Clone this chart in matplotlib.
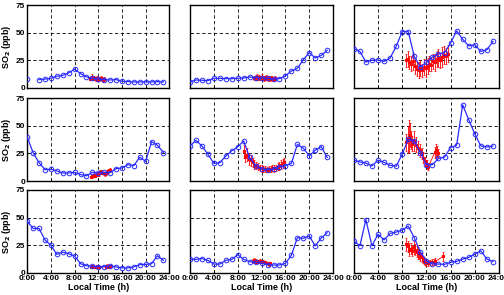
import matplotlib
matplotlib.use("Agg")
import matplotlib.pyplot as plt
import numpy as np

plt.rcParams['font.family'] = ['Liberation Sans', 'DejaVu Sans']
plt.rcParams['font.weight'] = 'bold'

hours = np.arange(24)

# hourly SO2 (ppb), one list per panel, row by row
so2_p1 = [8.1, np.nan, 7.5, 8, 8.7, 10.5, 11.4, 13.5, 17, 13, 10, 8.7,
          8, 7.5, 7.2, 7.5, 6, 5.7, 5.4, 5.4, 5.4, 5.4, 5.7, 5.4]
so2_p2 = [5.4, 7.2, 6.9, 6.6, 8.7, 8.7, 8.4, 8.4, 8.7, 9, 9.9, 9.3,
          9, 8.7, 8, 8.4, 11, 15.3, 17.7, 25.5, 32, 27, 29.4, 34]
so2_p3 = [35.4, 33, 23.4, 25.2, 25.2, 24, 27, 37.5, 51, 51, 28.5, 19,
          23, 28, 30.6, 32, 40.5, 51.6, 44, 38, 39, 33, 34.5, 42]
so2_p4 = [40, 25.6, 16.7, 10.4, 10.7, 9.2, 7.4, 7.4, 8, 6, 4.8, 8,
          7.4, 8, 7.7, 11.3, 11.9, 14.9, 14, 21.7, 17.9, 35.7, 32.4, 25.9]
so2_p5 = [31.8, 36.9, 31.8, 24.4, 16, 16.7, 22.6, 27.4, 31, 36.3, 21.4, 14,
          11, 10.4, 10.7, 13, 14, 16, 33.3, 29.8, 22.9, 28, 31.2, 21.4]
so2_p6 = [19, 17.4, 16.3, 13.7, 19, 17, 14.3, 13.4, 24.4, 37.8, 36.3, 25.9,
          14.9, 14.9, 20.5, 21.7, 30.4, 32.4, 69, 55.6, 42.8, 31.8, 30.9, 31.8]
so2_p7 = [46.7, 40.2, 40.2, 29.8, 25, 16.7, 18.8, 17.3, 15.2, 8.3, 6.5, 6,
          5.7, 5.7, 6.5, 5.4, 4.5, 4.5, 5.4, 7.4, 7.7, 8.3, 15.5, 11.3]
so2_p8 = [12.5, 12.2, 13, 11.3, 8, 8, 11.3, 12.2, 16.4, 12.2, 10.1, 9.5,
          8.9, 7.4, 7.1, 7.1, 8.6, 16, 31.8, 31.3, 33.3, 24.4, 31.5, 36.3]
so2_p9 = [28.9, 24.4, 48.2, 24.4, 35, 29.8, 35.7, 36.9, 38.7, 42.3, 31.8, 19,
          11, 8, 8, 7.7, 9.5, 10.4, 12.5, 14, 17, 20, 12.5, 10.1]

# high-resolution measurements with spread (red)
t_r1 = [10.6, 10.8, 11.0, 11.2, 11.4, 11.6, 11.8, 12.0, 12.2, 12.4, 12.6, 12.8, 13.0]
v_r1 = [8.5, 9, 10, 9, 8.5, 8, 9, 7.5, 8, 9, 8, 7, 8]
e_r1 = [1.5, 2, 2.5, 2, 1.5, 1.5, 2, 1.5, 1.5, 2, 1.5, 1.5, 1.5]

t_r2 = [10.8, 11.0, 11.2, 11.4, 11.6, 11.8, 12.0, 12.2, 12.4, 12.6, 12.8, 13.0, 13.2, 13.4, 13.6, 13.8, 14.0, 14.2]
v_r2 = [9, 9.5, 10, 9, 9.5, 9, 10, 9, 8.5, 9, 9.5, 8.5, 9, 8, 9, 8.5, 8, 9]
e_r2 = [2, 2, 2.5, 2, 2, 2, 2.5, 2, 2, 2, 2.5, 2, 2, 2, 2, 2, 2, 2]

t_r3 = [8.6, 8.9, 9.2, 9.5, 9.8, 10.1, 10.4, 10.7, 11.0, 11.3, 11.6, 11.9, 12.2, 12.5, 12.8,
        13.1, 13.4, 13.7, 14.0, 14.3, 14.6, 14.9, 15.2, 15.5]
v_r3 = [25, 26, 23, 22, 24, 20, 17, 16, 18, 16, 19, 18, 20, 22, 21,
        24, 23, 26, 27, 25, 28, 30, 29, 31]
e_r3 = [6, 7, 6, 7, 8, 7, 6, 7, 7, 6, 7, 8, 7, 7, 6,
        7, 8, 7, 8, 7, 9, 8, 7, 8]

t_r4 = [10.7, 10.9, 11.1, 11.3, 11.5, 11.7, 11.9, 12.1, 12.3, 12.5, 12.7, 12.9, 13.1, 13.3, 13.5, 13.7, 14.0]
v_r4 = [4, 4.5, 5, 5.5, 5, 6, 6.5, 7, 8, 8.5, 7.5, 7, 6.5, 7, 8, 9, 10]
e_r4 = [1, 1.5, 1.5, 1.5, 1.5, 1.5, 2, 2, 2, 2, 1.5, 1.5, 1.5, 1.5, 2, 2, 2]

t_r5 = [9.0, 9.3, 9.6, 9.9, 10.2, 10.5, 10.8, 11.1, 11.4, 11.7, 12.0, 12.3, 12.6, 12.9,
        13.2, 13.5, 13.8, 14.1, 14.4, 14.7, 15.0, 15.3, 15.6, 15.8]
v_r5 = [27, 22, 24, 20, 19, 17, 15, 14, 13, 12, 11.5, 11, 11, 10.5,
        11, 11, 12, 11.5, 12, 13, 14, 15, 16, 17]
e_r5 = [6, 5, 6, 5, 5, 4, 4, 3, 3, 3, 3, 2.5, 3, 2.5,
        3, 3, 3, 3, 3, 3, 3.5, 4, 4, 4]

t_r6 = [8.7, 8.9, 9.1, 9.3, 9.5, 9.7, 10.0, 10.3, 10.6, 10.9, 11.2, 11.5, 11.8, 12.1, 12.3,
        13.4, 13.6, 13.8, 14.0]
v_r6 = [35, 38, 40, 42, 37, 34, 36, 33, 30, 28, 25, 21, 18, 15, 13,
        26, 28, 27, 25]
e_r6 = [8, 12, 15, 11, 8, 7, 9, 7, 6, 6, 5, 5, 4, 4, 3,
        5, 6, 5, 4]

t_r7 = [10.8, 11.0, 11.2, 11.4, 11.6, 11.8, 12.0, 12.2, 13.3, 13.5, 13.7, 13.9]
v_r7 = [5.5, 6, 5.5, 5, 5.5, 6, 5.5, 5, 5.5, 6, 5.5, 6]
e_r7 = [1, 1.5, 1, 1, 1, 1.5, 1, 1, 1.5, 2, 1.5, 1.5]

t_r8 = [10.5, 10.7, 10.9, 11.1, 11.3, 11.5, 11.7, 11.9, 12.1, 12.3, 12.5, 13.0, 13.2, 13.4]
v_r8 = [11, 11.5, 10.5, 11, 10, 10.5, 11, 10, 10.5, 10, 9.5, 8.5, 8, 8.5]
e_r8 = [2, 2, 1.5, 2, 1.5, 1.5, 2, 1.5, 1.5, 1.5, 1.5, 1.5, 1.5, 1.5]

t_r9 = [8.7, 8.9, 9.1, 9.4, 9.7, 10.0, 10.2, 10.4, 10.6, 10.8, 11.0, 11.2, 11.4, 11.6, 11.8,
        12.0, 12.3, 12.6, 12.9, 13.2, 13.5, 14.8]
v_r9 = [26, 24, 21, 22, 20, 23, 21, 19, 18, 17, 15, 14, 12, 11, 10,
        9.5, 9, 9.5, 10, 10, 10.5, 15]
e_r9 = [6, 5, 6, 5, 5, 6, 5, 5, 5, 4, 4, 4, 3, 3, 3,
        3, 2.5, 2.5, 3, 3, 3, 4]

panels = [
    (so2_p1, t_r1, v_r1, e_r1), (so2_p2, t_r2, v_r2, e_r2), (so2_p3, t_r3, v_r3, e_r3),
    (so2_p4, t_r4, v_r4, e_r4), (so2_p5, t_r5, v_r5, e_r5), (so2_p6, t_r6, v_r6, e_r6),
    (so2_p7, t_r7, v_r7, e_r7), (so2_p8, t_r8, v_r8, e_r8), (so2_p9, t_r9, v_r9, e_r9),
]

xticks = [0, 4, 8, 12, 16, 20, 24]
xticklabels = ['0:00', '4:00', '8:00', '12:00', '16:00', '20:00', '24:00']
yticks = [0, 25, 50, 75]

fig = plt.figure(figsize=(5.04, 2.95), dpi=100)
lefts = [0.054, 0.377, 0.702]
widths = [0.282, 0.284, 0.288]
bottoms = [0.702, 0.386, 0.075]
height = 0.281

for k, (so2, tr, vr, er) in enumerate(panels):
    row, col = k // 3, k % 3
    ax = fig.add_axes([lefts[col], bottoms[row], widths[col], height])
    ax.errorbar(tr, vr, yerr=er, color='red', linewidth=0.6, elinewidth=0.6,
                marker='s', markersize=1.3, capsize=1, capthick=0.5, zorder=3)
    ax.plot(hours, so2, color='#2a2aff', linewidth=0.9, marker='o',
            markersize=3.3, markerfacecolor='none', markeredgewidth=0.7, zorder=4)
    ax.set_xlim(0, 24)
    ax.set_ylim(0, 75)
    ax.set_xticks(xticks)
    ax.set_yticks(yticks)
    ax.grid(True, color='black', linestyle=(0, (4, 3)), linewidth=0.6)
    ax.tick_params(direction='in', length=2, width=0.6, labelsize=6, pad=1.5)
    for s in ax.spines.values():
        s.set_linewidth(1.0)
    if col == 0:
        ax.set_ylabel('SO$_\\mathbf{2}$ (ppb)', fontsize=6.5, fontweight='bold', labelpad=2)
    else:
        ax.set_yticklabels([])
    if row == 2:
        ax.set_xticklabels(xticklabels)
        ax.set_xlabel('Local Time (h)', fontsize=6.5, fontweight='bold', labelpad=1)
    else:
        ax.set_xticklabels([])

fig.savefig('out.png', dpi=100)
